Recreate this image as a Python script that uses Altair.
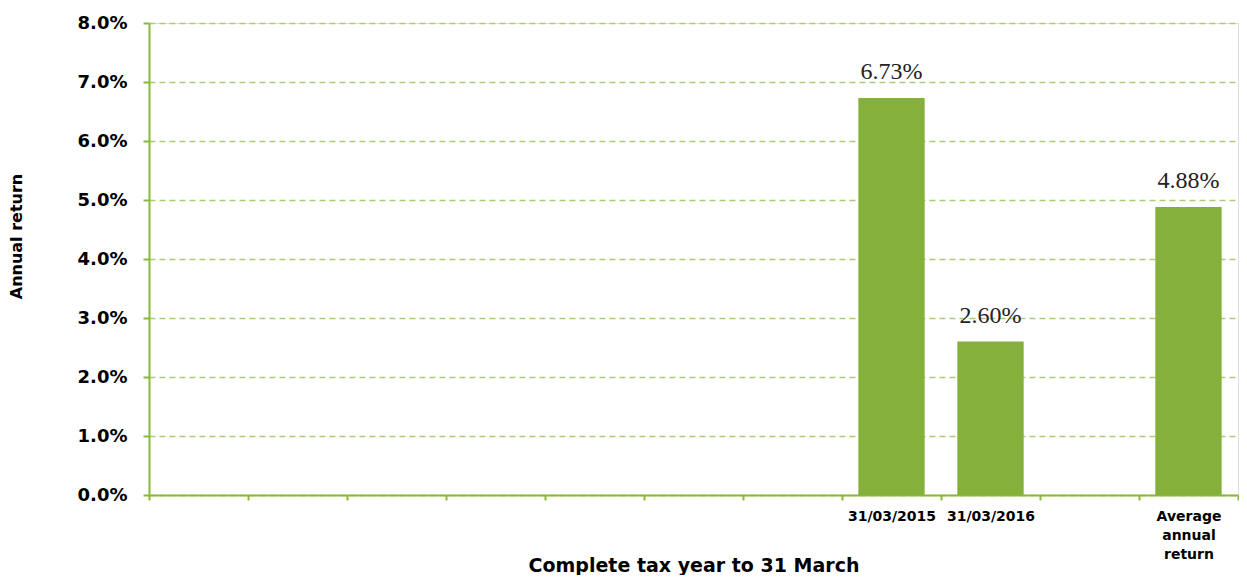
import altair as alt
import pandas as pd

categories = ["blank1", "blank2", "blank3", "blank4", "blank5", "blank6", "blank7",
              "31/03/2015", "31/03/2016", "blank8", "Average annual return"]
returns = [None, None, None, None, None, None, None, 0.0673, 0.0260, None, 0.0488]
y_ticks = [0.0, 0.01, 0.02, 0.03, 0.04, 0.05, 0.06, 0.07, 0.08]

df = pd.DataFrame({"cat": categories, "ret": returns})

GREEN = "#84b03b"
AXIS_GREEN = "#8ab83e"
GRID_GREEN = "#a9cc74"

x_enc = alt.X(
    "cat:N",
    sort=categories,
    scale=alt.Scale(paddingInner=0, paddingOuter=0),
    axis=alt.Axis(
        title="Complete tax year to 31 March",
        titleFont="DejaVu Sans", titleFontSize=19, titleFontWeight="bold", titleColor="#000000",
        titleY=76, titleBaseline="alphabetic",
        labelFont="DejaVu Sans", labelFontSize=14, labelFontWeight="bold", labelColor="#000000",
        labelAngle=0, labelPadding=9, labelLineHeight=19,
        labelExpr="datum.label == 'Average annual return' ? ['Average','annual','return'] : (indexof(datum.label,'blank') == 0 ? '' : datum.label)",
        tickBand="extent", tickSize=5, tickColor=AXIS_GREEN, tickWidth=2,
        domainColor=AXIS_GREEN, domainWidth=2, grid=False,
    ),
)

y_enc = alt.Y(
    "ret:Q",
    scale=alt.Scale(domain=[0, 0.08], nice=False),
    axis=alt.Axis(
        title="Annual return", values=y_ticks, format=".1%",
        titleFont="DejaVu Sans", titleFontSize=16, titleFontWeight="bold", titleColor="#000000",
        titleX=-133, titleY=213, titleAngle=270, titleAlign="center", titleBaseline="middle",
        labelFont="DejaVu Sans", labelFontSize=18, labelFontWeight="bold", labelColor="#000000",
        labelPadding=16, tickSize=6, tickColor=AXIS_GREEN, tickWidth=2,
        domainColor=AXIS_GREEN, domainWidth=2,
        grid=True, gridColor=GRID_GREEN, gridDash=[6, 4], gridWidth=1.5,
    ),
)

bars = alt.Chart(df).mark_bar(color=GREEN, width=alt.RelativeBandSize(0.67)).encode(x=x_enc, y=y_enc)

labels = alt.Chart(df).transform_filter("datum.ret != null").mark_text(
    font="Liberation Serif", fontSize=24, color="#222222", baseline="alphabetic", dy=-19
).encode(
    x=alt.X("cat:N", sort=categories),
    y=alt.Y("ret:Q"),
    text=alt.Text("ret:Q", format=".2%"),
)

chart = (bars + labels).properties(
    width=1089, height=472,
    padding={"left": 0, "top": 6, "right": 0, "bottom": 0},
).configure_view(stroke=None).configure(background="white")

chart.save("out.html", embed_options={"renderer": "svg", "actions": False})
